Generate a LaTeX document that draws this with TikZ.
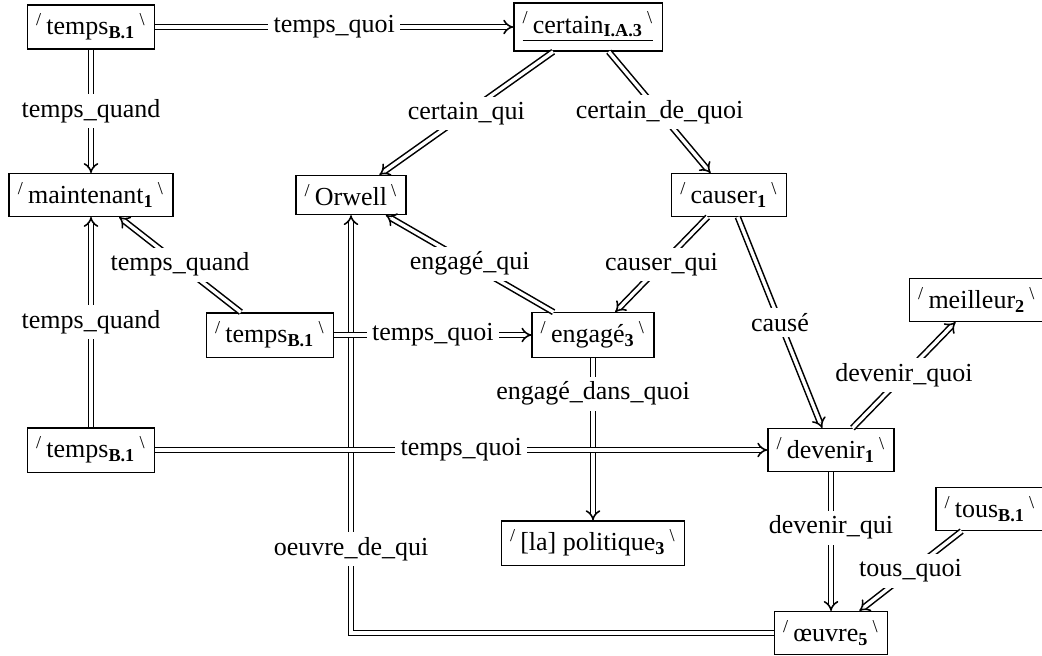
\documentclass[tikz,border=0pt]{standalone}
\usepackage{fontspec}
\setmainfont{Liberation Serif}
\usetikzlibrary{arrows.meta}

\newcommand{\sem}[2]{\textsuperscript{/}\kern1.5pt#1\textsubscript{\textbf{#2}}\kern1.5pt\textsuperscript{\textbackslash}}

\begin{document}
\begin{tikzpicture}[x=0.3846pt,y=-0.3846pt,
    sem/.style={draw,fill=white,inner sep=3.33pt,line width=0.5pt},
    rel/.style={double,double distance=1.3pt,line width=0.6pt,-{Implies}},
    lab/.style={fill=white,inner sep=2pt}]

    \useasboundingbox (0,0) rectangle (1042,655);

    % noeuds
    \node [sem] (tempsA) at (91,27) {\sem{temps}{B.1}};
    \node [sem] (certain) at (588,27) {\underline{\sem{certain}{I.A.3}}};
    \node [sem] (maint) at (91,195) {\sem{maintenant}{1}};
    \node [sem] (orwell) at (351,195) {\textsuperscript{/}\kern1.5pt Orwell\kern1.5pt\textsuperscript{\textbackslash}};
    \node [sem] (causer) at (729,195) {\sem{causer}{1}};
    \node [sem] (tempsB) at (270,335) {\sem{temps}{B.1}};
    \node [sem] (engage) at (593,335) {\sem{engagé}{3}};
    \node [sem] (meill) at (977,300) {\sem{meilleur}{2}};
    \node [sem] (tempsC) at (91,450) {\sem{temps}{B.1}};
    \node [sem] (devenir) at (831,450) {\sem{devenir}{1}};
    \node [sem] (polit) at (593,543) {\sem{[la] politique}{3}};
    \node [sem] (tous) at (990,509) {\sem{tous}{B.1}};
    \node [sem] (oeuvre) at (831,633) {\sem{œuvre}{5}};

    % relations
    \draw [rel] (tempsA) -- node [lab] {temps\_quoi} (certain);
    \draw [rel] (tempsA) -- node [lab] {temps\_quand} (maint);
    \draw [rel] (certain) -- node [lab] {certain\_qui} (orwell);
    \draw [rel] (certain) -- node [lab] {certain\_de\_quoi} (causer);
    \draw [rel] (tempsB) -- node [lab] {temps\_quand} (maint);
    \draw [rel] (engage) -- node [lab] {engagé\_qui} (orwell);
    \draw [rel] (causer) -- node [lab] {causer\_qui} (engage);
    \draw [rel] (causer) -- node [lab] {causé} (devenir);
    \draw [rel] (oeuvre) -| node [lab,pos=0.6] {oeuvre\_de\_qui} (orwell);
    \draw [rel] (tempsB) -- node [lab] {temps\_quoi} (engage);
    \draw [rel] (engage) -- node [lab,pos=0.22] {engagé\_dans\_quoi} (polit);
    \draw [rel] (tempsC) -- node [lab] {temps\_quand} (maint);
    \draw [rel] (tempsC) -- node [lab] {temps\_quoi} (devenir);
    \draw [rel] (devenir) -- node [lab] {devenir\_quoi} (meill);
    \draw [rel] (devenir) -- node [lab,pos=0.4] {devenir\_qui} (oeuvre);
    \draw [rel] (tous) -- node [lab] {tous\_quoi} (oeuvre);
\end{tikzpicture}
\end{document}
